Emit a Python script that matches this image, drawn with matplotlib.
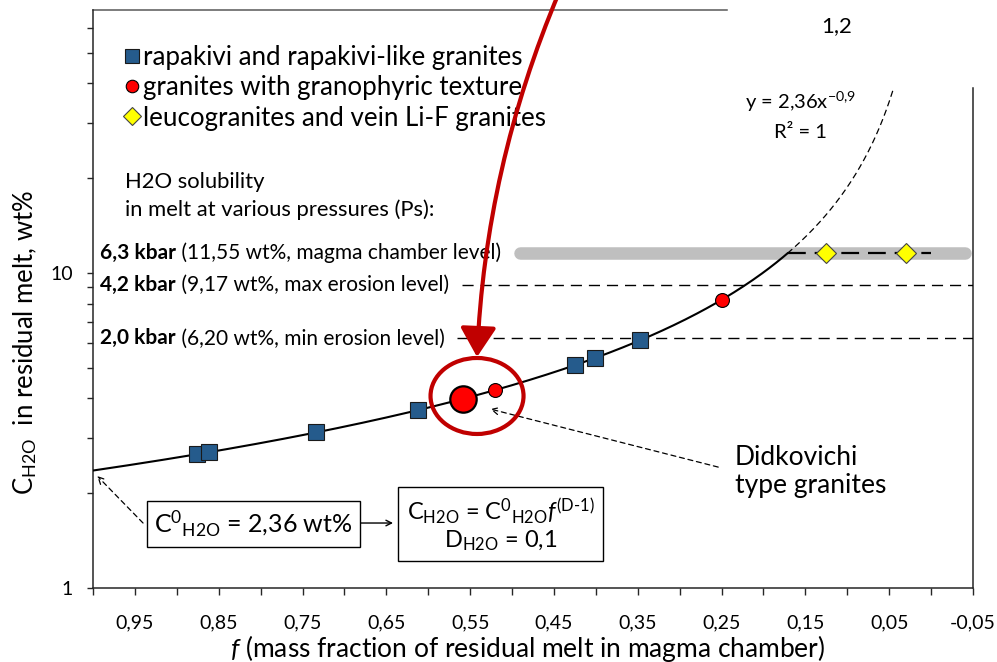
import numpy as np
import matplotlib
matplotlib.use("Agg")
import matplotlib.pyplot as plt
from matplotlib.patches import Ellipse
from matplotlib.ticker import FixedLocator, NullFormatter, FixedFormatter

plt.rcParams['font.family'] = ['Lato', 'DejaVu Sans']
plt.rcParams['mathtext.fontset'] = 'custom'
plt.rcParams['mathtext.rm'] = 'Lato'
plt.rcParams['mathtext.it'] = 'Lato:italic'
plt.rcParams['mathtext.bf'] = 'Lato:bold'

# model: C = C0 * f^(D-1)
c0 = 2.36
d_h2o = 0.1

# samples
f_rapakivi = [0.876, 0.862, 0.734, 0.612, 0.425, 0.401, 0.347]
c_rapakivi = [2.66, 2.70, 3.12, 3.67, 5.10, 5.37, 6.12]
f_granophyric = [0.520, 0.250]
c_granophyric = [4.25, 8.22]
f_didkovichi = [0.558]
c_didkovichi = [3.99]
f_leuco = [0.125, 0.030]
c_leuco = [11.55, 11.55]

# H2O solubility levels
levels = [11.55, 9.17, 6.20]
level_kbar = ['6,3 kbar', '4,2 kbar', '2,0 kbar']
level_notes = [' (11,55 wt%, magma chamber level)',
               ' (9,17 wt%, max erosion level)',
               ' (6,20 wt%, min erosion level)']
level_start = [0.49, 0.560, 0.566]

x_major = [0.95, 0.85, 0.75, 0.65, 0.55, 0.45, 0.35, 0.25, 0.15, 0.05, -0.05]
x_minor = [1.0, 0.9, 0.8, 0.7, 0.6, 0.5, 0.4, 0.3, 0.2, 0.1, 0.0]
y_major = [1, 10]
y_minor = [2, 3, 4, 5, 6, 7, 8, 9, 20, 30, 40, 50, 60]

W, H = 997, 662
fig = plt.figure(figsize=(W / 100, H / 100), dpi=100)
ax = fig.add_axes([93 / W, 74 / H, 880 / W, 578 / H])
ax.set_yscale('log')
ax.set_xlim(1.0, -0.05)
ax.set_ylim(1, 10 ** (578 / 315))

# curve
f_sat = (levels[0] / c0) ** (1 / (d_h2o - 1))
f_solid = np.linspace(1.0, f_sat, 300)
f_dash = np.linspace(f_sat, 0.045, 200)
ax.plot(f_solid, c0 * f_solid ** (d_h2o - 1), color='black', lw=1.5, zorder=4)
ax.plot(f_dash, c0 * f_dash ** (d_h2o - 1), color='black', lw=0.9,
        ls=(0, (5, 3)), zorder=4)

# solubility levels
ax.plot([level_start[0], -0.04], [levels[0]] * 2, color='#BFBFBF', lw=9,
        solid_capstyle='round', zorder=2)
ax.plot([f_sat, 0.0], [levels[0]] * 2, color='black', lw=1.6,
        ls=(0, (8, 4)), zorder=3)
for lev, fs in zip(levels[1:], level_start[1:]):
    ax.plot([fs, -0.05], [lev, lev], color='black', lw=1.0,
            ls=(0, (8, 5)), zorder=3)

# points
ax.plot(f_rapakivi, c_rapakivi, 's', ms=11, mfc='#255B8C', mec='#1a1a1a',
        mew=0.8, zorder=5, label='rapakivi and rapakivi-like granites')
ax.plot(f_granophyric, c_granophyric, 'o', ms=10, mfc='#FF0000', mec='black',
        mew=0.8, zorder=5, label='granites with granophyric texture')
ax.plot(f_didkovichi, c_didkovichi, 'o', ms=19, mfc='#FF0000', mec='black',
        mew=1.6, zorder=5)
ax.plot(f_leuco, c_leuco, 'D', ms=10, mfc='#FFFF00', mec='#444444',
        mew=0.8, zorder=5, label='leucogranites and vein Li-F granites')

leg = ax.legend(loc='upper left', bbox_to_anchor=(0.036, 0.940),
                frameon=False, fontsize=18.6, handlelength=0.6,
                handletextpad=0.12, labelspacing=0.21, borderpad=0,
                borderaxespad=0, markerscale=0.9)

# axes look
for s in ['top', 'right']:
    ax.spines[s].set_visible(False)
for s in ['left', 'bottom']:
    ax.spines[s].set_color('#262626')
    ax.spines[s].set_linewidth(1.1)
ax.plot([0, 634 / 880], [1, 1], transform=ax.transAxes, clip_on=False,
        color='#595959', lw=1.1)
ax.plot([1, 1], [0, 500 / 578], transform=ax.transAxes, clip_on=False,
        color='#262626', lw=1.1)

ax.xaxis.set_major_locator(FixedLocator(x_major))
ax.xaxis.set_minor_locator(FixedLocator(x_minor))
ax.xaxis.set_major_formatter(FixedFormatter([f"{v:.2f}".replace('.', ',') for v in x_major]))
ax.xaxis.set_minor_formatter(NullFormatter())
ax.yaxis.set_major_locator(FixedLocator(y_major))
ax.yaxis.set_minor_locator(FixedLocator(y_minor))
ax.yaxis.set_major_formatter(FixedFormatter([str(v) for v in y_major]))
ax.yaxis.set_minor_formatter(NullFormatter())
ax.tick_params(axis='x', which='both', direction='out', length=5, width=1,
               color='#262626', labelsize=14, pad=14)
ax.tick_params(axis='y', which='both', direction='out', length=4.5, width=1,
               color='#262626', labelsize=14, pad=10)

# axis titles
fig.text(230 / W, 1 - 648 / H,
         r'$\mathit{f}$ (mass fraction of residual melt in magma chamber)',
         fontsize=19, ha='left', va='center')
fig.text(25 / W, 1 - 495 / H, r'C$_{\mathrm{H2O}}$  in residual melt, wt%',
         fontsize=18.5, rotation=90, ha='center', va='bottom')

# text block
ax.text(0.962, 19.45, 'H2O solubility', fontsize=15.8, va='center')
ax.text(0.962, 15.85, 'in melt at various pressures (Ps):', fontsize=15.8,
        va='center')
for lev, kb, note in zip(levels, level_kbar, level_notes):
    t = ax.text(0.9917, lev, kb, fontsize=15, weight='bold', va='center')
    ax.annotate(note, xy=(1, 0), xycoords=t, va='bottom', ha='left',
                fontsize=15)

ax.text(0.156, 34.9, r'y = 2,36x$^{\mathrm{-0{,}9}}$', fontsize=14.5,
        ha='center', va='center')
ax.text(0.156, 28.0, 'R² = 1', fontsize=14.5, ha='center', va='center')

ax.text(0.234, 2.343, 'Didkovichi\ntype granites', fontsize=19,
        ha='left', va='center', linespacing=1.15)

# boxes
box = dict(boxstyle='square,pad=0.3', fc='white', ec='black', lw=1)
ax.text(0.8085, 1.597, r'C$^{0}{}_{\mathrm{H2O}}$ = 2,36 wt%', fontsize=18,
        ha='center', va='center', bbox=box, zorder=6)
ax.text(0.5137, 1.592,
        r'C$_{\mathrm{H2O}}$ = C$^{0}{}_{\mathrm{H2O}}\mathit{f}^{\text{(D-1)}}$'
        '\n' r'D$_{\mathrm{H2O}}$ = 0,1',
        fontsize=17, ha='center', va='center', multialignment='center',
        bbox=dict(boxstyle='square,pad=0.35', fc='white', ec='black', lw=1),
        zorder=6, linespacing=1.15)

# arrows
ax.annotate('', xy=(0.642, 1.608), xytext=(0.6814, 1.608),
            arrowprops=dict(arrowstyle='->', lw=1, color='black',
                            shrinkA=0, shrinkB=0))
ax.annotate('', xy=(0.995, 2.268), xytext=(0.9403, 1.608),
            arrowprops=dict(arrowstyle='->,head_length=0.5,head_width=0.25',
                            lw=0.9, ls=(0, (4, 3)), color='black',
                            shrinkA=0, shrinkB=0))
ax.annotate('', xy=(0.526, 3.70), xytext=(0.254, 2.42),
            arrowprops=dict(arrowstyle='->,head_length=0.5,head_width=0.25',
                            lw=0.9, ls=(0, (4, 3)), color='black',
                            shrinkA=0, shrinkB=0))

ax.add_patch(Ellipse((0.4364, 0.3322), 93 / 880, 76 / 578,
                     transform=ax.transAxes, fill=False, ec='#C00000',
                     lw=3, zorder=7))
ax.annotate('', xy=(0.4364, 0.3997), xytext=(0.5295, 1.03),
            xycoords='axes fraction', annotation_clip=False,
            arrowprops=dict(arrowstyle='-|>,head_length=0.9,head_width=0.55',
                            connectionstyle='arc3,rad=0.09', lw=3,
                            color='#C00000', shrinkA=0, shrinkB=0,
                            mutation_scale=20), zorder=8)

fig.text(837 / W, 1 - 26 / H, '1,2', fontsize=16, ha='center', va='center')

fig.savefig('out.png', dpi=100)
